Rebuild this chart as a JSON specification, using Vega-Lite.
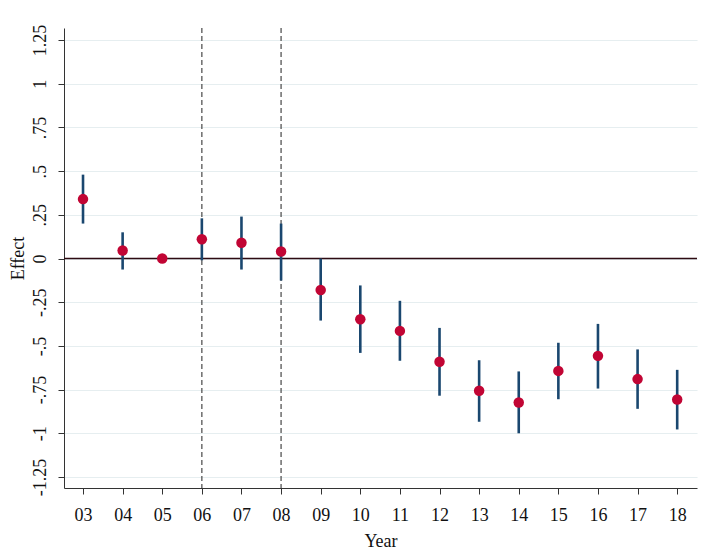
{
  "$schema": "https://vega.github.io/schema/vega-lite/v6.json",
  "width": 633,
  "height": 460,
  "autosize": {"type": "none"},
  "padding": {"left": 64, "top": 28, "right": 7, "bottom": 66},
  "background": "white",
  "config": {
    "view": {"stroke": null},
    "font": "Liberation Serif",
    "axis": {
      "labelFont": "Liberation Serif",
      "titleFont": "Liberation Serif",
      "labelFontSize": 18,
      "titleFontSize": 18,
      "labelColor": "#111",
      "titleColor": "#111",
      "titleFontWeight": "normal",
      "domainColor": "#333",
      "tickColor": "#333",
      "tickSize": 6,
      "domainWidth": 1,
      "tickWidth": 1
    }
  },
  "datasets": {
    "est": [
      {"year": 3, "b": 0.34, "lo": 0.20, "hi": 0.48},
      {"year": 4, "b": 0.046, "lo": -0.063, "hi": 0.15},
      {"year": 5, "b": 0.0, "lo": null, "hi": null},
      {"year": 6, "b": 0.11, "lo": -0.01, "hi": 0.23},
      {"year": 7, "b": 0.09, "lo": -0.063, "hi": 0.24},
      {"year": 8, "b": 0.04, "lo": -0.126, "hi": 0.20},
      {"year": 9, "b": -0.18, "lo": -0.355, "hi": 0.0},
      {"year": 10, "b": -0.347, "lo": -0.54, "hi": -0.154},
      {"year": 11, "b": -0.414, "lo": -0.585, "hi": -0.242},
      {"year": 12, "b": -0.591, "lo": -0.785, "hi": -0.397},
      {"year": 13, "b": -0.757, "lo": -0.934, "hi": -0.582},
      {"year": 14, "b": -0.824, "lo": -1.0, "hi": -0.646},
      {"year": 15, "b": -0.643, "lo": -0.805, "hi": -0.482},
      {"year": 16, "b": -0.557, "lo": -0.744, "hi": -0.374},
      {"year": 17, "b": -0.69, "lo": -0.86, "hi": -0.52},
      {"year": 18, "b": -0.807, "lo": -0.978, "hi": -0.637}
    ],
    "ref": [{"year": 6}, {"year": 8}],
    "zero": [{"y": 0}]
  },
  "layer": [
    {
      "data": {"name": "ref"},
      "mark": {"type": "rule", "color": "#555", "strokeDash": [5, 3], "strokeWidth": 1.3},
      "encoding": {
        "x": {
          "field": "year",
          "type": "quantitative",
          "scale": {"domain": [2.52, 18.5], "nice": false, "zero": false},
          "axis": {
            "values": [3,4,5,6,7,8,9,10,11,12,13,14,15,16,17,18],
            "labelExpr": "datum.value < 10 ? '0' + datum.value : '' + datum.value",
            "grid": false,
            "title": "Year",
            "labelPadding": 12,
            "titlePadding": 8,
            "labelFlush": false
          }
        }
      }
    },
    {
      "data": {"name": "zero"},
      "mark": {"type": "rule", "color": "#2e0b12", "strokeWidth": 1.5},
      "encoding": {
        "y": {
          "field": "y",
          "type": "quantitative",
          "scale": {"domain": [-1.313, 1.319], "nice": false, "zero": false},
          "axis": {
            "values": [-1.25, -1, -0.75, -0.5, -0.25, 0, 0.25, 0.5, 0.75, 1, 1.25],
            "labelExpr": "replace(toString(datum.value), '0.', '.')",
            "labelAngle": -90,
            "labelAlign": "center",
            "labelBaseline": "bottom",
            "labelPadding": 9,
            "labelFlush": false,
            "grid": true,
            "gridColor": "#e6eef0",
            "gridWidth": 1.2,
            "title": "Effect",
            "titlePadding": 4
          }
        }
      }
    },
    {
      "data": {"name": "est"},
      "mark": {"type": "rule", "color": "#1a476f", "strokeWidth": 2.6},
      "encoding": {
        "x": {"field": "year", "type": "quantitative"},
        "y": {"field": "lo", "type": "quantitative"},
        "y2": {"field": "hi"}
      }
    },
    {
      "data": {"name": "est"},
      "mark": {"type": "point", "filled": true, "shape": "circle", "size": 110, "color": "#c10534", "opacity": 1},
      "encoding": {
        "x": {"field": "year", "type": "quantitative"},
        "y": {"field": "b", "type": "quantitative"}
      }
    }
  ]
}
